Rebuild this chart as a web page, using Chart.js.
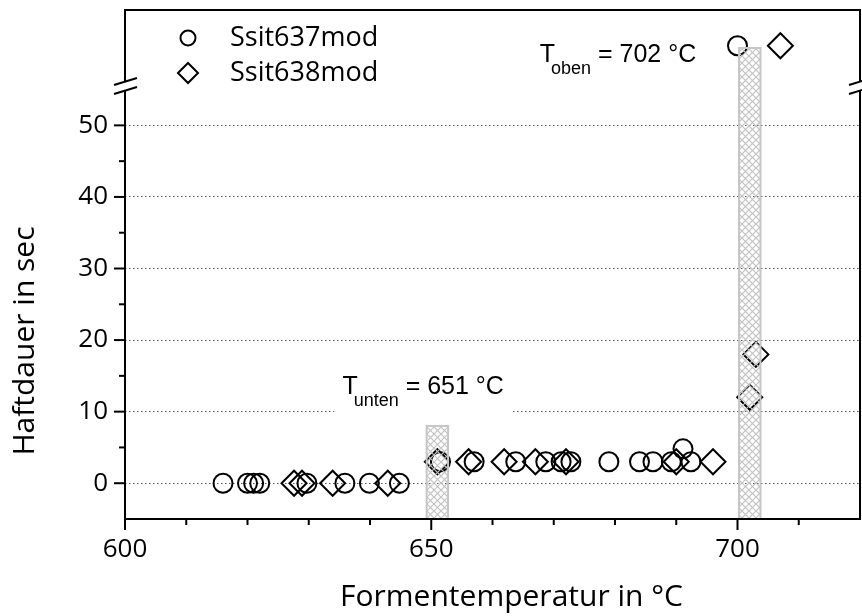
<!DOCTYPE html>
<html lang="de">
<head>
<meta charset="utf-8">
<title>Haftdauer über Formentemperatur</title>
<script src="https://cdn.jsdelivr.net/npm/chart.js@4.4.1/dist/chart.umd.min.js"></script>
<style>
  html, body { margin: 0; padding: 0; background: #fff; }
  #wrap { width: 862px; height: 616px; }
</style>
</head>
<body>
<div id="wrap"><canvas id="haftChart" width="862" height="616"></canvas></div>
<script>
// ==================== DATEN ====================

// Ssit637mod (Kreise): Formentemperatur in °C / Haftdauer in sec
const temp637  = [616, 620, 621, 622, 629.7, 635.9, 639.9, 644.8, 651.5, 657, 663.8, 668.7, 671.2, 672.8, 679, 684, 686.2, 689.2, 691.1, 692.4];
const dauer637 = [0, 0, 0, 0, 0, 0, 0, 0, 3, 3, 3, 3, 3, 3, 3, 3, 3, 3, 4.8, 3];

// Ssit638mod (Rauten)
const temp638  = [627.6, 628.9, 633.9, 642.9, 651, 656.1, 661.9, 667, 672, 690, 696, 702, 703];
const dauer638 = [0, 0, 0, 0, 3, 3, 3, 3, 3, 3, 3, 12, 18];

// Werte oberhalb des Achsenbruchs (obere Skala ohne Beschriftung)
const tempOben637  = [700];
const dauerOben637 = [0.53];
const tempOben638  = [707];
const dauerOben638 = [0.53];

// Grenztemperaturen mit schraffiertem Streifen
const grenzNamen  = ['unten', 'oben'];
const grenzTemp   = [651, 702];
const grenzBreite = [3.5, 3.5];     // °C
const grenzBis    = [8, 0.5];       // Oberkante des Streifens
const grenzAchse  = ['y', 'yTop'];  // Skala der Oberkante

// Achsenteilung
const xTicksMajor = [600, 650, 700];
const xTicksMinor = [610, 620, 630, 640, 660, 670, 680, 690, 710];
const yTicksMajor = [0, 10, 20, 30, 40, 50];
const yTicksMinor = [5, 15, 25, 35, 45];

// ==================== DARSTELLUNG ====================

const SCHRIFT = '"Open Sans", "Noto Sans", sans-serif';
const SCHRIFT_ANNO = '"Liberation Sans", Arial, sans-serif';

const kreis = {
    pointStyle: 'circle', pointRadius: 9.5, pointHoverRadius: 9.5,
    pointBorderWidth: 2, pointBorderColor: '#000', pointBackgroundColor: 'rgba(0,0,0,0)',
    showLine: false
};
const raute = {
    pointStyle: 'rectRot', pointRadius: 12.5, pointHoverRadius: 12.5,
    pointBorderWidth: 2, pointBorderColor: '#000', pointBackgroundColor: 'rgba(0,0,0,0)',
    showLine: false
};

const punkte = (xs, ys) => xs.map((x, i) => ({ x: x, y: ys[i] }));

// Kreuzschraffur für die Temperaturstreifen
function schraffur() {
    const c = document.createElement('canvas');
    c.width = 7; c.height = 7;
    const g = c.getContext('2d');
    g.strokeStyle = '#c2c2c2';
    g.lineWidth = 1.2;
    g.beginPath();
    g.moveTo(0, 0); g.lineTo(7, 7);
    g.moveTo(7, 0); g.lineTo(0, 7);
    g.stroke();
    return g.createPattern(c, 'repeat');
}

function linie(ctx, x1, y1, x2, y2) {
    ctx.beginPath();
    ctx.moveTo(x1, y1);
    ctx.lineTo(x2, y2);
    ctx.stroke();
}

// Skalen sollen keinen zusätzlichen Rand für Beschriftungen anfordern
function ohneRand(s) {
    s.paddingTop = 0;
    s.paddingBottom = 0;
    s.paddingLeft = 0;
    s.paddingRight = 0;
}

/**
 * Beschriftung T_index = Wert °C mit weißem Hintergrund
 */
function zeichneGrenze(ctx, x, basis, index, wert) {
    ctx.save();
    ctx.textAlign = 'left';
    ctx.textBaseline = 'alphabetic';
    const gross = '25px ' + SCHRIFT_ANNO;
    const klein = '18px ' + SCHRIFT_ANNO;
    const rest = ' = ' + wert + ' °C';

    ctx.font = gross;
    const wT = ctx.measureText('T').width;
    const wRest = ctx.measureText(rest).width;
    ctx.font = klein;
    const wSub = ctx.measureText(index).width;
    const xSub = x + wT - 4;
    const xRest = xSub + wSub;

    ctx.fillStyle = '#fff';
    ctx.fillRect(x - 8, basis - 28, xRest + wRest - x + 16, 50);

    ctx.fillStyle = '#000';
    ctx.font = gross;
    ctx.fillText('T', x, basis);
    ctx.fillText(rest, xRest, basis);
    ctx.font = klein;
    ctx.fillText(index, xSub, basis + 12);
    ctx.restore();
}

const rahmenPlugin = {
    id: 'rahmen',
    beforeDatasetsDraw(chart) {
        const ctx = chart.ctx;
        const xs = chart.scales.x;
        // T_unten über der 10er-Linie, T_oben neben den oberen Punkten
        zeichneGrenze(ctx, xs.getPixelForValue(grenzTemp[0]) - 95,
            chart.scales.y.getPixelForValue(10) - 18, grenzNamen[0], grenzTemp[0]);
        zeichneGrenze(ctx, xs.getPixelForValue(grenzTemp[1]) - 210,
            chart.scales.yTop.getPixelForValue(dauerOben637[0]) + 16, grenzNamen[1], grenzTemp[1]);
    },
    afterDatasetsDraw(chart) {
        const ctx = chart.ctx;
        const xs = chart.scales.x;
        const yBoden = chart.scales.y.getPixelForValue(chart.scales.y.min);
        const muster = schraffur();
        grenzTemp.forEach((t, i) => {
            const x1 = xs.getPixelForValue(t - grenzBreite[i] / 2);
            const x2 = xs.getPixelForValue(t + grenzBreite[i] / 2);
            const yO = chart.scales[grenzAchse[i]].getPixelForValue(grenzBis[i]);
            ctx.save();
            ctx.fillStyle = muster;
            ctx.fillRect(x1, yO, x2 - x1, yBoden - yO);
            ctx.strokeStyle = '#c6c6c6';
            ctx.lineWidth = 2;
            ctx.strokeRect(x1, yO, x2 - x1, yBoden - yO);
            ctx.restore();
        });
    },
    afterDraw(chart) {
        const ctx = chart.ctx;
        const { left, right, top, bottom } = chart.chartArea;
        const xs = chart.scales.x;
        const ys = chart.scales.y;
        const bruch = ys.top;

        ctx.save();
        ctx.strokeStyle = '#000';
        ctx.lineWidth = 2;
        ctx.lineCap = 'butt';

        // Rahmen mit Achsenbruch links und rechts
        linie(ctx, left - 1, bottom, right + 1, bottom);
        linie(ctx, left - 1, top, right + 1, top);
        [left, right].forEach(x => {
            linie(ctx, x, bottom + 1, x, bruch + 4);
            linie(ctx, x, bruch - 4, x, top - 1);
        });
        [left, right].forEach(x => {
            linie(ctx, x - 11, bruch - 1, x + 12, bruch - 8);
            linie(ctx, x - 11, bruch + 8, x + 12, bruch + 1);
        });

        // Teilstriche
        xTicksMajor.forEach(v => { const x = xs.getPixelForValue(v); linie(ctx, x, bottom, x, bottom + 11); });
        xTicksMinor.forEach(v => { const x = xs.getPixelForValue(v); linie(ctx, x, bottom, x, bottom + 6); });
        yTicksMajor.forEach(v => { const y = ys.getPixelForValue(v); linie(ctx, left, y, left - 11, y); });
        yTicksMinor.forEach(v => { const y = ys.getPixelForValue(v); linie(ctx, left, y, left - 6, y); });

        // Achsentitel
        ctx.fillStyle = '#000';
        ctx.textAlign = 'center';
        ctx.textBaseline = 'middle';
        ctx.font = '30px ' + SCHRIFT;
        ctx.fillText('Formentemperatur in °C', (left + right) / 2 + 19, bottom + 78);
        ctx.save();
        ctx.translate(25, 341);
        ctx.rotate(-Math.PI / 2);
        ctx.fillText('Haftdauer in sec', 0, 0);
        ctx.restore();

        // Legende oben links im Diagramm
        ctx.font = '27px ' + SCHRIFT;
        ctx.textAlign = 'left';
        chart.data.datasets.slice(0, 2).forEach((ds, i) => {
            const y = top + 28 + i * 35;
            ctx.fillStyle = 'rgba(0,0,0,0)';
            ctx.strokeStyle = '#000';
            ctx.lineWidth = 2;
            Chart.helpers.drawPoint(ctx, {
                pointStyle: ds.pointStyle,
                radius: ds.pointStyle === 'circle' ? 7.5 : 10,
                rotation: 0,
                borderWidth: 2
            }, left + 63, y);
            ctx.fillStyle = '#000';
            ctx.fillText(ds.label, left + 105, y);
        });
        ctx.restore();
    }
};

// ==================== DIAGRAMM ====================

new Chart(document.getElementById('haftChart'), {
    type: 'scatter',
    data: {
        datasets: [
            { label: 'Ssit637mod', data: punkte(temp637, dauer637), yAxisID: 'y', ...kreis },
            { label: 'Ssit638mod', data: punkte(temp638, dauer638), yAxisID: 'y', ...raute },
            { label: 'Ssit637mod', data: punkte(tempOben637, dauerOben637), yAxisID: 'yTop', ...kreis },
            { label: 'Ssit638mod', data: punkte(tempOben638, dauerOben638), yAxisID: 'yTop', ...raute }
        ]
    },
    options: {
        responsive: false,
        animation: false,
        events: [],
        layout: { autoPadding: false, padding: { top: 10, right: 2, left: 0, bottom: 0 } },
        plugins: {
            legend: { display: false },
            tooltip: { enabled: false }
        },
        scales: {
            x: {
                type: 'linear',
                min: 600,
                max: 720,
                afterFit: s => { s.height = 97; ohneRand(s); },
                afterBuildTicks: s => { s.ticks = xTicksMajor.map(v => ({ value: v })); },
                grid: { display: false, drawTicks: false },
                border: { display: false },
                ticks: {
                    font: { family: SCHRIFT, size: 26 },
                    color: '#000',
                    padding: 15,
                    maxRotation: 0,
                    autoSkip: false
                }
            },
            y: {
                type: 'linear',
                position: 'left',
                stack: 'haft',
                stackWeight: 433,
                min: -5,
                max: 55.5,
                afterFit: s => { s.width = 125; ohneRand(s); },
                afterBuildTicks: s => { s.ticks = yTicksMajor.map(v => ({ value: v })); },
                grid: { color: '#555', lineWidth: 1, drawTicks: false },
                border: { display: false, dash: [1.5, 2.5] },
                ticks: {
                    font: { family: SCHRIFT, size: 26 },
                    color: '#000',
                    padding: 17
                }
            },
            yTop: {
                type: 'linear',
                position: 'left',
                stack: 'haft',
                stackWeight: 76,
                min: 0,
                max: 1,
                afterFit: s => { s.width = 125; ohneRand(s); },
                grid: { display: false, drawTicks: false },
                border: { display: false },
                ticks: { display: false }
            }
        }
    },
    plugins: [rahmenPlugin]
});
</script>
</body>
</html>
